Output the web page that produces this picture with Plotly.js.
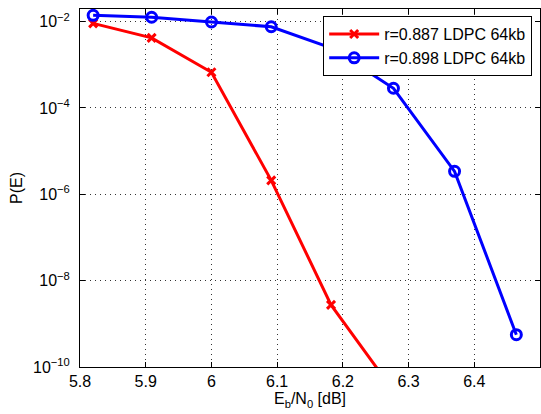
<!DOCTYPE html>
<html>
<head>
<meta charset="utf-8">
<script src="https://cdn.plot.ly/plotly-3.0.1.min.js"></script>
<style>html,body{margin:0;padding:0;background:#fff;overflow:hidden;}#chart{width:541px;height:414px;}</style>
</head>
<body>
<div id="chart"></div>
<script>
// Data
const xRed = [5.82, 5.909, 6.0, 6.091, 6.182, 6.273];
const yRed = [9.1e-3, 4.2e-3, 6.7e-4, 2.1e-6, 2.75e-9, 3.4e-11];
const xBlue = [5.82, 5.909, 6.0, 6.091, 6.184, 6.277, 6.37, 6.464];
const yBlue = [1.4e-2, 1.26e-2, 9.8e-3, 7.6e-3, 2.4e-3, 2.86e-4, 3.4e-6, 5.6e-10];
const nameRed = 'r=0.887 LDPC 64kb';
const nameBlue = 'r=0.898 LDPC 64kb';
const xTickVals = [5.8, 5.9, 6.0, 6.1, 6.2, 6.3, 6.4, 6.5];
const xTickText = ['5.8', '5.9', '6', '6.1', '6.2', '6.3', '6.4', ''];
const yTickVals = [1e-10, 1e-8, 1e-6, 1e-4, 1e-2];
const yTickText = ['10<sup>−10</sup>', '10<sup>−8</sup>', '10<sup>−6</sup>', '10<sup>−4</sup>', '10<sup>−2</sup>'];

const font = 'Liberation Sans, Arial, Helvetica, sans-serif';

const traces = [
  {
    x: xRed, y: yRed, name: nameRed, type: 'scatter', mode: 'lines+markers',
    line: {color: '#ff0000', width: 3},
    marker: {symbol: 'x-thin-open', size: 8, color: '#ff0000', line: {color: '#ff0000', width: 3}}
  },
  {
    x: xBlue, y: yBlue, name: nameBlue, type: 'scatter', mode: 'lines+markers',
    line: {color: '#0000ff', width: 3},
    marker: {symbol: 'circle-open', size: 10, color: '#0000ff', line: {color: '#0000ff', width: 3}}
  }
];

const axisCommon = {
  showline: true, linecolor: '#000', linewidth: 1, mirror: 'ticks',
  ticks: 'inside', ticklen: 5, tickcolor: '#000', tickwidth: 1,
  showgrid: true, gridcolor: '#333', gridwidth: 1, griddash: '1px,4px',
  zeroline: false, tickfont: {family: font, size: 16, color: '#000'}
};

const layout = {
  width: 541, height: 414,
  margin: {l: 80, r: 1, t: 9, b: 47},
  paper_bgcolor: '#fff', plot_bgcolor: '#fff',
  font: {family: font, color: '#000'},
  showlegend: true,
  legend: {
    x: 0.983, y: 0.98, xanchor: 'right', yanchor: 'top',
    bgcolor: '#fff', bordercolor: '#000', borderwidth: 1,
    font: {family: font, size: 16, color: '#000'},
    itemwidth: 50,
    tracegroupgap: 0
  },
  xaxis: Object.assign({}, axisCommon, {
    range: [5.8, 6.5], tickmode: 'array', tickvals: xTickVals, ticktext: xTickText,
    title: {text: 'E<sub>b</sub>/N<sub>0</sub> [dB]', font: {family: font, size: 16, color: '#000'}, standoff: 3}
  }),
  yaxis: Object.assign({}, axisCommon, {
    type: 'log', range: [-10, -1.708], tickmode: 'array', tickvals: yTickVals, ticktext: yTickText,
    ticklabelstandoff: 6,
    title: {text: 'P(E)', font: {family: font, size: 16, color: '#000'}, standoff: 6}
  })
};

Plotly.newPlot('chart', traces, layout, {staticPlot: true, displayModeBar: false});
</script>
</body>
</html>
